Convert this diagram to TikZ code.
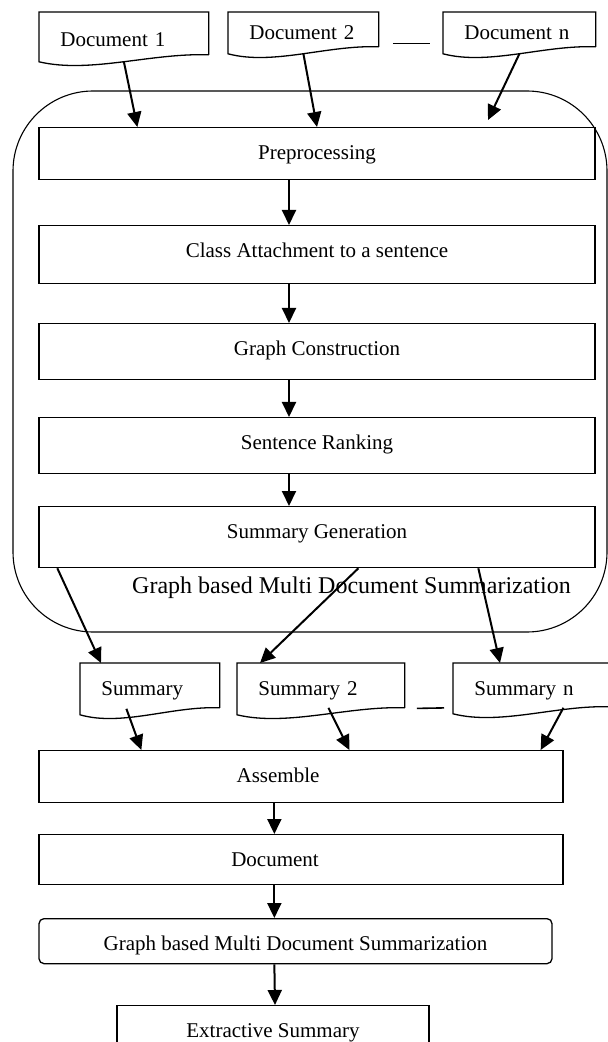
\documentclass[tikz,border=0pt]{standalone}
\usepackage{fontspec}
\setmainfont{Liberation Serif}
\usetikzlibrary{arrows.meta, calc}

\tikzset{
  stage/.style={draw, line width=0.65pt, minimum width=#1, inner ysep=0pt, text height=16pt, anchor=north},
  paper/.style={anchor=north west, align=left, inner xsep=10.5pt, inner ysep=0pt, text height=7pt, text depth=0pt, text width=#1},
  arr/.style={-{Triangle[length=7.5pt,width=7pt]}, line width=1pt},
  linker/.style={line width=0.8pt}
}

% outline of a document with a wavy lower edge
\newcommand{\paperframe}[1]{%
  \draw[line width=0.65pt] ([yshift=3.5pt]#1.south east) -- (#1.north east) -- (#1.north west) -- (#1.south west)
    .. controls ($(#1.south west)!0.3!(#1.south east)+(0,12)$) and ($(#1.south west)!0.66!(#1.south east)+(0,-9)$) .. ([yshift=3.5pt]#1.south east);}

\begin{document}
\begin{tikzpicture}[x=0.5pt, y=-0.5pt, font=\fontsize{10.5}{12}\selectfont]
\useasboundingbox (0,0) rectangle (608,1042);

% outer block
\node[draw, line width=0.55pt, rounded corners=40pt, minimum width=297pt, minimum height=270.5pt] (outer) at (310,361.5) {};
\node[anchor=base, font=\fontsize{12}{14}\selectfont] (outerlabel) at (351.5,593) {Graph based Multi Document Summarization};

% input documents
\node[paper=63.5pt, minimum height=24.5pt, text height=10pt] (d1) at (39,12) {Document 1};
\node[paper=54pt, minimum height=20.5pt] (d2) at (228,12) {Document 2};
\node[paper=55pt, minimum height=20.5pt] (dn) at (443,12) {Document n};

% stages
\node[stage=278pt, text depth=10pt] (pre) at (317,127) {Preprocessing};
\node[stage=278pt, text depth=13pt] (cls) at (317,225) {Class Attachment to a sentence};
\node[stage=278pt, text depth=12pt] (gc) at (317,323) {Graph Construction};
\node[stage=278pt, text depth=12pt] (rank) at (317,417) {Sentence Ranking};
\node[stage=278pt, text depth=14.5pt] (gen) at (317,506) {Summary Generation};

% summaries
\node[paper=48.5pt, minimum height=25.5pt] (s1) at (80,663) {Summary};
\node[paper=62.5pt, minimum height=25.5pt] (s2) at (237,663) {Summary 2};
\node[paper=57.5pt, minimum height=25pt] (sn) at (453,663) {Summary n};

% second pass
\node[stage=262pt, text depth=10pt] (asm) at (301,750) {\hspace*{-23pt}Assemble};
\node[stage=262pt, text depth=9pt] (doc) at (301,834) {\hspace*{-26pt}Document};
\node[stage=256.5pt, text depth=6.5pt, rounded corners=2.5pt] (gb) at (295.5,918) {Graph based Multi Document Summarization};
\node[stage=156pt, text depth=10pt] (ext) at (273,1005) {Extractive Summary};

\foreach \p in {d1,d2,dn,s1,s2,sn}
  \paperframe{\p};

% arrows
\coordinate (dnend) at (488,120);
\draw[arr] (d1.south) -- ([xshift=49.5pt]pre.north west);
\draw[arr] (d2.south) -- (pre.north);
\draw[arr] (dn.south) -- (dnend);
\foreach \a/\b in {pre/cls,cls/gc,gc/rank,rank/gen}
  \draw[arr] ([xshift=-14pt]\a.south) -- ([xshift=-14pt]\b.north);
\draw[arr] ([xshift=9.5pt]gen.south west) -- ([xshift=10.5pt]s1.north west);
\draw[arr] ([xshift=160pt]gen.south west) -- ([xshift=11.5pt]s2.north west);
\draw[arr] ([xshift=220pt]gen.south west) -- ([xshift=23.5pt]sn.north west);
\draw[arr] ([xshift=-11.75pt,yshift=3pt]s1.south) -- ([xshift=51.5pt]asm.north west);
\draw[arr] ([xshift=3.75pt,yshift=3.5pt]s2.south) -- ([xshift=155.5pt]asm.north west);
\draw[arr] ([xshift=15.75pt,yshift=3pt]sn.south) -- ([xshift=-11.5pt]asm.north east);
\draw[arr] ([xshift=118pt]asm.south west) -- ([xshift=118pt]doc.north west);
\draw[arr] ([xshift=118pt]doc.south west) -- ([xshift=118pt]gb.north west);
\draw[arr] ([xshift=118pt]gb.south west) -- ([xshift=1pt]ext.north);

% dots between the documents
\draw[linker] ([xshift=7pt,yshift=-5.25pt]d2.east) -- ([xshift=-6.5pt,yshift=-5.25pt]dn.west);
\draw[linker] ([xshift=6pt,yshift=-9.75pt]s2.east) -- ([xshift=-4.5pt,yshift=-9.75pt]sn.west);
\end{tikzpicture}
\end{document}
